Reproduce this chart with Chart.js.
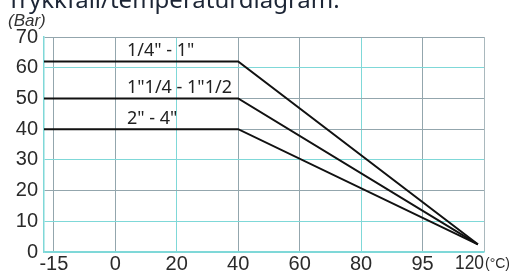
<!DOCTYPE html>
<html><head><meta charset="utf-8">
<script src="https://cdn.jsdelivr.net/npm/chart.js@4/dist/chart.umd.min.js"></script>
<style>html,body{margin:0;padding:0;background:#fff;}#wrap{width:520px;height:273px;position:relative;}</style>
</head><body><div id="wrap"><canvas id="c" width="520" height="273"></canvas></div>
<script>
// ---- data ----
const titleText = 'Trykkfall/temperaturdiagram:';
const yUnit = '(Bar)';
const xUnit = '(°C)';
const tempTicks = [-15, 0, 20, 40, 60, 80, 95, 120];
const xTickLabels = ['-15', '0', '20', '40', '60', '80', '95', '120'];
const yTicks = [0, 10, 20, 30, 40, 50, 60, 70];
const seriesNames = ['1/4" - 1"', '1"1/4 - 1"1/2', '2" - 4"'];
const temps = [-17.4, 40, 117.5];
const pressureSmall = [62, 62, 2.5];
const pressureMid = [50, 50, 2.5];
const pressureLarge = [40, 40, 2.5];
const labelTemp = 3.8;

// temperature -> evenly spaced tick index (the axis is drawn with equal spacing per tick)
function tIdx(t){
  const n = tempTicks.length;
  let i = 0;
  if (t <= tempTicks[0]) i = 0;
  else if (t >= tempTicks[n-1]) i = n-2;
  else { while (t > tempTicks[i+1]) i++; }
  return i + (t - tempTicks[i]) / (tempTicks[i+1] - tempTicks[i]);
}
const series = [pressureSmall, pressureMid, pressureLarge];
const datasets = series.map((vals, k) => ({
  label: seriesNames[k],
  data: vals.map((v, i) => ({x: tIdx(temps[i]), y: v})),
  borderColor: '#111',
  borderWidth: 2,
  pointRadius: 0,
  tension: 0,
  fill: false
}));

const cyan = '#7fd8d8', gray = '#93a6ad';
const xGrid = [gray, gray, cyan, gray, gray, cyan, gray, '#a9b8bd'];
const yGrid = {0: cyan, 10: cyan, 20: gray, 30: cyan, 40: gray, 50: gray, 60: cyan, 70: gray};

const deco = {
  id: 'deco',
  afterDraw(chart){
    const ctx = chart.ctx, xs = chart.scales.x, ys = chart.scales.y;
    ctx.save();
    // title (clipped at top)
    ctx.fillStyle = '#1c2535';
    ctx.font = '24px "Noto Sans", sans-serif';
    ctx.textBaseline = 'alphabetic';
    ctx.textAlign = 'left';
    ctx.fillText(titleText, 7, 8, 334);
    // y unit
    ctx.fillStyle = '#333';
    ctx.font = 'italic 17px "Liberation Sans", sans-serif';
    ctx.fillText(yUnit, 8, 26, 41);
    // series labels
    ctx.fillStyle = '#222';
    ctx.font = '18px "Noto Sans", sans-serif';
    series.forEach((vals, k) => {
      ctx.fillText(seriesNames[k], xs.getPixelForValue(tIdx(labelTemp)), ys.getPixelForValue(vals[0] + 1.8));
    });
    // last x tick with unit
    const px = xs.getPixelForValue(tempTicks.length - 1);
    const ty = xs.top + 11;
    ctx.fillStyle = '#2a2a2a';
    ctx.textBaseline = 'middle';
    ctx.textAlign = 'right';
    ctx.font = '20px "Liberation Sans", sans-serif';
    ctx.fillText(xTickLabels[xTickLabels.length - 1], px, ty, 29);
    ctx.textAlign = 'left';
    ctx.font = '14px "Liberation Sans", sans-serif';
    ctx.fillText(xUnit, px + 1, ty + 1);
    ctx.restore();
  }
};

new Chart(document.getElementById('c'), {
  type: 'line',
  data: {datasets},
  options: {
    responsive: false,
    animation: false,
    layout: {padding: {top: 37, right: 36, left: 0, bottom: 0}},
    plugins: {legend: {display: false}, tooltip: {enabled: false}},
    scales: {
      x: {
        type: 'linear',
        min: tIdx(temps[0]),
        max: tempTicks.length - 1,
        afterBuildTicks: s => { s.ticks = tempTicks.map((t, i) => ({value: i})); },
        afterFit: s => { s.height = 21; },
        ticks: {
          autoSkip: false, maxRotation: 0, padding: 0,
          color: '#2a2a2a',
          font: {family: '"Liberation Sans", sans-serif', size: 20},
          callback: (v) => (v === tempTicks.length - 1 ? '' : xTickLabels[v])
        },
        grid: {color: c => xGrid[c.index] || gray, lineWidth: 1, drawTicks: false},
        border: {color: cyan, width: 1.5}
      },
      y: {
        type: 'linear',
        min: yTicks[0],
        max: yTicks[yTicks.length - 1],
        afterBuildTicks: s => { s.ticks = yTicks.map(v => ({value: v})); },
        afterFit: s => { s.width = 44; },
        ticks: {
          padding: 6,
          color: '#2a2a2a',
          font: {family: '"Liberation Sans", sans-serif', size: 20}
        },
        grid: {color: c => yGrid[c.tick.value] || gray, lineWidth: 1, drawTicks: false},
        border: {color: cyan, width: 1.5}
      }
    }
  },
  plugins: [deco]
});
</script></body></html>
